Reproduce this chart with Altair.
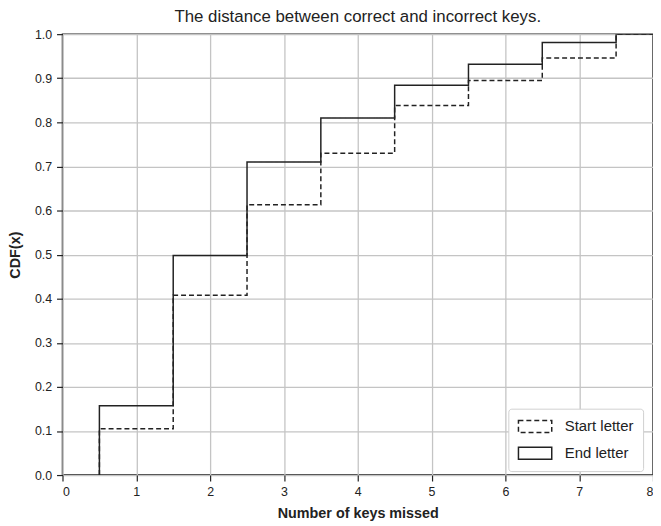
import altair as alt
import pandas as pd

# Step CDF values
x_keys = [0.5, 1.5, 2.5, 3.5, 4.5, 5.5, 6.5, 7.5]
start_cdf = [0.105, 0.408, 0.613, 0.730, 0.838, 0.895, 0.946, 1.0]
end_cdf = [0.157, 0.498, 0.710, 0.810, 0.884, 0.932, 0.981, 1.0]
series_names = ["Start letter", "End letter"]

rows = []
for name, vals in zip(series_names, [start_cdf, end_cdf]):
    rows.append({"series": name, "x": x_keys[0], "y": 0.0, "o": 0})
    for i, (xv, yv) in enumerate(zip(x_keys, vals)):
        rows.append({"series": name, "x": xv, "y": yv, "o": i + 1})
    rows.append({"series": name, "x": 8.0, "y": vals[-1], "o": len(vals) + 1})
df = pd.DataFrame(rows)

FONT = "Liberation Sans"

chart = alt.Chart(df).mark_line(
    interpolate="step-after", color="#222222", strokeWidth=1.5, clip=True
).encode(
    x=alt.X("x:Q", scale=alt.Scale(domain=[0, 8], nice=False),
            axis=alt.Axis(title="Number of keys missed", values=list(range(0, 9)),
                          format="d", labelPadding=5, titlePadding=8)),
    y=alt.Y("y:Q", scale=alt.Scale(domain=[0, 1.0], nice=False),
            axis=alt.Axis(title="CDF(x)", values=[i / 10 for i in range(11)],
                          format=".1f", labelPadding=5, titlePadding=12)),
    strokeDash=alt.StrokeDash(
        "series:N",
        scale=alt.Scale(domain=series_names, range=[[5, 3], [1, 0]]),
        legend=alt.Legend(
            title=None, orient="none", legendX=450, legendY=378,
            symbolType="M-2.1,-0.75H2.1V0.75H-2.1Z", symbolSize=256,
            symbolOffset=9,
            symbolStrokeColor="#222222", symbolStrokeWidth=1.5,
            symbolFillColor="white", labelFontSize=15, labelFont=FONT,
            labelColor="#222222", fillColor="white", strokeColor="#d0d0d0",
            padding=9, cornerRadius=3, rowPadding=9, labelOffset=21,
        ),
    ),
    order="o:Q",
).properties(
    width=596, height=445,
    title=alt.Title("The distance between correct and incorrect keys.",
                    fontSize=17, font=FONT, fontWeight="normal", color="#222222",
                    offset=2),
    autosize=alt.AutoSizeParams(type="none"),
    padding={"left": 55, "top": 24, "right": 0, "bottom": 48},
).configure_view(
    stroke="#222222", strokeWidth=1.5
).configure_axis(
    grid=True, gridColor="#c4c4c4", gridWidth=1.3,
    domain=False, tickColor="#222222", tickSize=6, tickWidth=1.2,
    labelFont=FONT, labelFontSize=12.5, labelColor="#222222",
    titleFont=FONT, titleFontSize=14.5, titleFontWeight="bold", titleColor="#222222",
)

chart.save("out.html", embed_options={"renderer": "svg", "actions": False})
